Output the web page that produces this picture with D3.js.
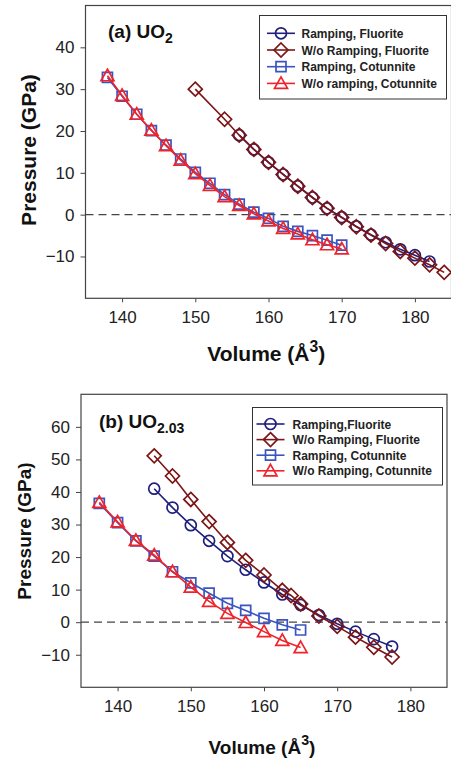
<!DOCTYPE html>
<html>
<head>
<meta charset="utf-8">
<script src="https://cdn.jsdelivr.net/npm/d3@7"></script>
<style>
  body { margin: 0; background: #fff; }
  svg { font-family: "Liberation Sans", Arial, sans-serif; display: block; }
</style>
</head>
<body>
<div class="chart"></div>
<script>
// tick values
var xTicks = [140, 150, 160, 170, 180];
var yTicksA = [-10, 0, 10, 20, 30, 40];
var yTicksB = [-10, 0, 10, 20, 30, 40, 50, 60];

// panel (a) UO2 : [volume, pressure]
var rampFluA = [[156,19],[158,15.6],[160,12.5],[162,9.6],[164,6.8],[166,4.1],[168,1.5],[170,-0.6],
  [172,-2.8],[174,-4.8],[176,-6.6],[178,-8.3],[180,-9.7],[182,-11.2]];
var noRampFluA = [[150,30],[154,22.8],[156,19],[158,15.6],[160,12.5],[162,9.6],[164,6.8],[166,4.1],
  [168,1.5],[170,-0.7],[172,-2.9],[174,-4.9],[176,-6.9],[178,-8.8],[180,-10.4],[182,-12],[184,-13.8]];
var rampCotA = [[138,32.8],[140,28.3],[142,24],[144,20.1],[146,16.6],[148,13.3],[150,10.1],[152,7.5],
  [154,4.8],[156,2.5],[158,0.6],[160,-0.9],[162,-2.8],[164,-4],[166,-5],[168,-6.1],[170,-7.3]];
var noRampCotA = [[138,33.2],[140,28.5],[142,24],[144,20.2],[146,16.5],[148,13],[150,9.8],[152,7],
  [154,4.3],[156,2.2],[158,0.2],[160,-1.5],[162,-3.3],[164,-4.6],[166,-6],[168,-7.2],[170,-8.2]];

// panel (b) UO2.03
var rampFluB = [[145,41],[147.5,35.2],[150,29.8],[152.5,25],[155,20.3],[157.5,16.1],[160,12.2],
  [162.5,8.5],[165,5.3],[167.5,2.2],[170,-0.5],[172.5,-2.9],[175,-5.2],[177.5,-7.5]];
var noRampFluB = [[145,51.1],[147.5,44.9],[150,37.7],[152.5,30.9],[155,24.5],[157.5,19],[160,14.5],
  [162.5,9.8],[163.7,8.2],[165,5.6],[167.5,1.9],[170,-1.3],[172.5,-4.6],[175,-7.7],[177.5,-10.7]];
var rampCotB = [[137.5,36.5],[140,30.6],[142.5,25],[145,20.3],[147.5,15.5],[150,12.1],[152.5,8.9],
  [155,5.8],[157.5,3.6],[160,1.2],[162.5,-0.8],[165,-2.4]];
var noRampCotB = [[137.5,36.8],[140,30.8],[142.5,25.1],[145,20.6],[147.5,15.5],[150,10.8],[152.5,6.4],
  [155,2.7],[157.5,-0.1],[160,-2.9],[162.5,-5.6],[165,-7.8]];

var legendA = ["Ramping, Fluorite", "W/o Ramping, Fluorite", "Ramping, Cotunnite", "W/o ramping, Cotunnite"];
var legendB = ["Ramping,Fluorite", "W/o Ramping, Fluorite", "Ramping, Cotunnite", "W/o Ramping, Cotunnite"];

var colors = ["#1f1f7e", "#7c1515", "#3a55c0", "#f0222a"];
var shapes = ["circle", "diamond", "square", "triangle"];

var svg = d3.select(".chart").append("svg")
    .attr("width", 451)
    .attr("height", 761);

// marker path centred on 0,0
function marker(shape) {
  if (shape == "circle") return d3.arc()({innerRadius: 0, outerRadius: 5.5, startAngle: 0, endAngle: 2 * Math.PI});
  if (shape == "square") return "M-5,-5H5V5H-5Z";
  if (shape == "diamond") return "M0,-7L7,0L0,7L-7,0Z";
  return "M0,-6.5L6.5,5L-6.5,5Z";
}

function drawPanel(p) {
  var x = d3.scaleLinear().domain([135, 185]).range([p.left, p.right]);
  var y = d3.scaleLinear().domain(p.yDomain).range([p.bottom, p.top]);
  var g = svg.append("g");

  // axes
  g.append("g")
      .attr("transform", "translate(0," + p.bottom + ")")
      .call(d3.axisBottom(x).tickValues(xTicks).tickSize(4).tickPadding(9).tickSizeOuter(0))
      .call(function(a) { a.select(".domain").remove(); a.selectAll("text").attr("font-size", 17).attr("fill", "#222"); a.selectAll("line").attr("stroke", "#444"); });
  g.append("g")
      .attr("transform", "translate(" + p.left + ",0)")
      .call(d3.axisLeft(y).tickValues(p.yTicks).tickSize(5).tickPadding(6).tickSizeOuter(0))
      .call(function(a) { a.select(".domain").remove(); a.selectAll("text").attr("font-size", 17).attr("fill", "#222"); a.selectAll("line").attr("stroke", "#444"); });

  // frame
  g.append("rect")
      .attr("x", p.left).attr("y", p.top)
      .attr("width", p.right - p.left).attr("height", p.bottom - p.top)
      .attr("fill", "none").attr("stroke", "#444").attr("stroke-width", 1.2);

  // zero line
  g.append("line")
      .attr("x1", p.left).attr("x2", p.right)
      .attr("y1", y(0)).attr("y2", y(0))
      .attr("stroke", "#444").attr("stroke-width", 1.3).attr("stroke-dasharray", "8,5");

  var line = d3.line().x(function(d) { return x(d[0]); }).y(function(d) { return y(d[1]); });
  p.series.forEach(function(s, i) {
    g.append("path").datum(s).attr("d", line)
        .attr("fill", "none").attr("stroke", colors[i]).attr("stroke-width", 1.6);
    g.selectAll(".m" + i).data(s).enter().append("path")
        .attr("transform", function(d) { return "translate(" + x(d[0]) + "," + y(d[1]) + ")"; })
        .attr("d", marker(shapes[i]))
        .attr("fill", "none").attr("stroke", colors[i]).attr("stroke-width", 1.7);
  });

  // legend
  var lg = g.append("g");
  lg.append("rect")
      .attr("x", p.leg.x).attr("y", p.leg.y).attr("width", p.leg.w).attr("height", p.leg.h)
      .attr("fill", "#fff").attr("stroke", "#333").attr("stroke-width", 1);
  p.labels.forEach(function(t, i) {
    var cy = p.leg.y0 + i * p.leg.dy;
    lg.append("line").attr("x1", p.leg.sx).attr("x2", p.leg.sx + 28).attr("y1", cy).attr("y2", cy)
        .attr("stroke", colors[i]).attr("stroke-width", 1.6);
    lg.append("path").attr("transform", "translate(" + (p.leg.sx + 14) + "," + cy + ")")
        .attr("d", marker(shapes[i])).attr("fill", "none").attr("stroke", colors[i]).attr("stroke-width", 1.7);
    lg.append("text").attr("x", p.leg.tx).attr("y", cy + 4.5)
        .attr("font-size", 12).attr("font-weight", "bold").attr("fill", "#222").text(t);
  });

  // panel label
  var lab = g.append("text").attr("x", p.labX).attr("y", p.labY)
      .attr("font-size", 19).attr("font-weight", "bold").attr("fill", "#111");
  lab.append("tspan").text(p.labMain);
  lab.append("tspan").attr("dy", 5).attr("font-size", 14).text(p.labSub);

  // axis titles
  var xt = g.append("text").attr("x", (p.left + Math.min(p.right, 451)) / 2 - 2).attr("y", p.xTitleY)
      .attr("text-anchor", "middle").attr("font-size", p.titleSize).attr("font-weight", "bold").attr("fill", "#111");
  xt.append("tspan").text("Volume (\u00C5");
  xt.append("tspan").attr("dy", -9).attr("font-size", p.titleSize * 0.75).text("3");
  xt.append("tspan").attr("dy", 9).text(")");

  g.append("text")
      .attr("transform", "translate(" + p.yTitleX + "," + p.yTitleY + ") rotate(-90)")
      .attr("text-anchor", "middle").attr("font-size", p.titleSize).attr("font-weight", "bold").attr("fill", "#111")
      .text("Pressure (GPa)");
}

drawPanel({
  left: 85.5, right: 451.5, top: 5.5, bottom: 298.3, yDomain: [-20, 50], yTicks: yTicksA,
  series: [rampFluA, noRampFluA, rampCotA, noRampCotA], labels: legendA,
  leg: {x: 259.5, y: 15.5, w: 187, h: 83.5, y0: 33.3, dy: 16.7, sx: 267, tx: 301.5},
  labX: 108, labY: 38, labMain: "(a) UO", labSub: "2",
  titleSize: 21, xTitleY: 361, yTitleX: 36, yTitleY: 150
});

drawPanel({
  left: 81, right: 447, top: 394.3, bottom: 687.3, yDomain: [-20, 70], yTicks: yTicksB,
  series: [rampFluB, noRampFluB, rampCotB, noRampCotB], labels: legendB,
  leg: {x: 252.5, y: 407.5, w: 190, h: 77.5, y0: 424, dy: 15.6, sx: 256.5, tx: 292.5},
  labX: 99, labY: 428, labMain: "(b) UO", labSub: "2.03",
  titleSize: 19, xTitleY: 754, yTitleX: 31, yTitleY: 531
});
</script>
</body>
</html>
